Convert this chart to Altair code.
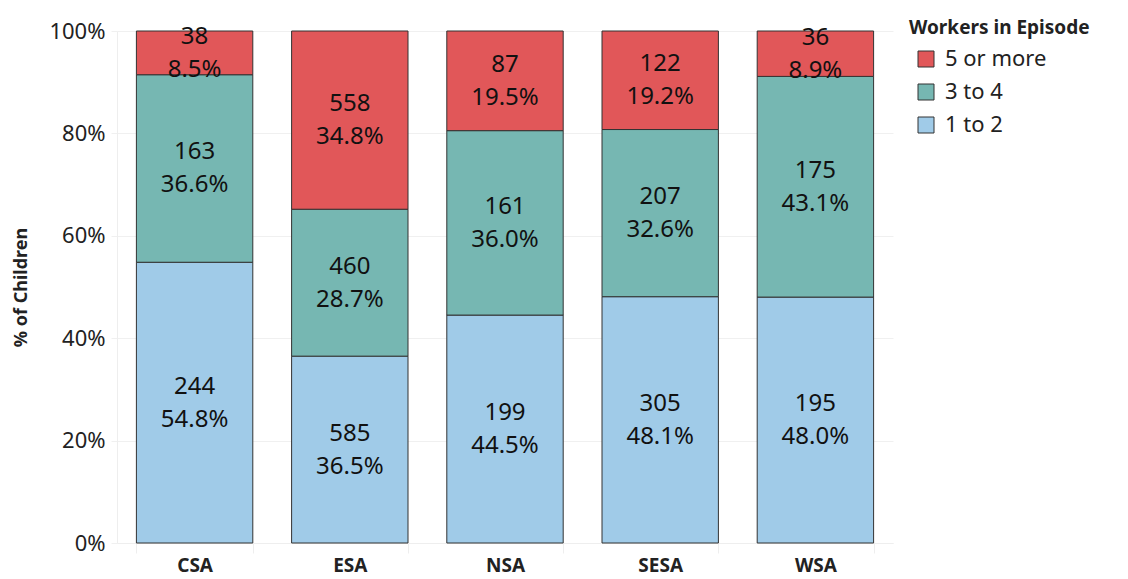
import altair as alt
import pandas as pd

regions = ["CSA", "ESA", "NSA", "SESA", "WSA"]
groups = ["1 to 2", "3 to 4", "5 or more"]
counts_1_2 = [244, 585, 199, 305, 195]
counts_3_4 = [163, 460, 161, 207, 175]
counts_5p = [38, 558, 87, 122, 36]

legend_order = ["5 or more", "3 to 4", "1 to 2"]
colors = ["#E15759", "#76B7B2", "#A0CBE8"]

rows = []
for i, r in enumerate(regions):
    tot = counts_1_2[i] + counts_3_4[i] + counts_5p[i]
    for g, c, o in zip(groups, [counts_1_2[i], counts_3_4[i], counts_5p[i]], [0, 1, 2]):
        rows.append({"region": r, "group": g, "count": c, "ord": o,
                     "label": f"{c}\n{100 * c / tot:.1f}%"})
df = pd.DataFrame(rows)

FONT = "Noto Sans"

base = alt.Chart(df).transform_stack(
    stack="count", groupby=["region"], as_=["y0", "y1"],
    sort=[alt.SortField("ord", order="ascending")], offset="normalize"
).transform_calculate(mid="(datum.y0 + datum.y1) / 2")

xenc = alt.X("region:N", sort=regions, title=None,
             scale=alt.Scale(paddingInner=0.25, paddingOuter=0.125),
             axis=alt.Axis(labelAngle=0, labelFontSize=19, labelFontWeight="bold",
                           labelColor="#222", labelFont=FONT, labelPadding=3,
                           tickBand="extent", tickColor="#eeeeee", tickSize=10,
                           domainColor="#eeeeee", grid=False))

bars = base.mark_bar(stroke="#333333", strokeWidth=1).encode(
    x=xenc,
    y=alt.Y("y0:Q", scale=alt.Scale(domain=[0, 1]), title="% of Children",
            axis=alt.Axis(format="%", values=[0, 0.2, 0.4, 0.6, 0.8, 1.0],
                          labelFontSize=22, labelColor="#222", labelFont=FONT,
                          labelPadding=6, tickColor="#f0f0f0", tickSize=6,
                          gridColor="#f0f0f0", domainColor="#eeeeee",
                          titleFontSize=18, titleFontWeight="bold", titleFont=FONT,
                          titleColor="#222", titlePadding=18)),
    y2="y1:Q",
    color=alt.Color("group:N", scale=alt.Scale(domain=legend_order, range=colors),
                    title="Workers in Episode",
                    legend=alt.Legend(orient="none", legendX=792, legendY=-12,
                                      symbolType="square", symbolSize=256,
                                      symbolStrokeColor="#333333", symbolStrokeWidth=1,
                                      symbolOffset=6, titleLimit=400, labelLimit=300,
                                      labelFontSize=22, labelFont=FONT, labelColor="#222",
                                      titleFontSize=19, titleFont=FONT, titleColor="#222",
                                      titleFontWeight="bold", rowPadding=11,
                                      titlePadding=10, labelOffset=8)),
)

texts = base.mark_text(fontSize=24, font=FONT, color="#111", lineBreak="\n",
                       lineHeight=33, baseline="middle", dy=-16).encode(
    x=alt.X("region:N", sort=regions),
    y=alt.Y("mid:Q"),
    text="label:N",
)

chart = alt.layer(bars, texts).properties(
    width=776, height=512,
    autosize=alt.AutoSizeParams(type="none"),
    padding={"left": 109, "top": 23, "right": 227, "bottom": 36},
).configure_view(stroke=None)

chart.save("out.html", embed_options={"renderer": "svg", "actions": False})
